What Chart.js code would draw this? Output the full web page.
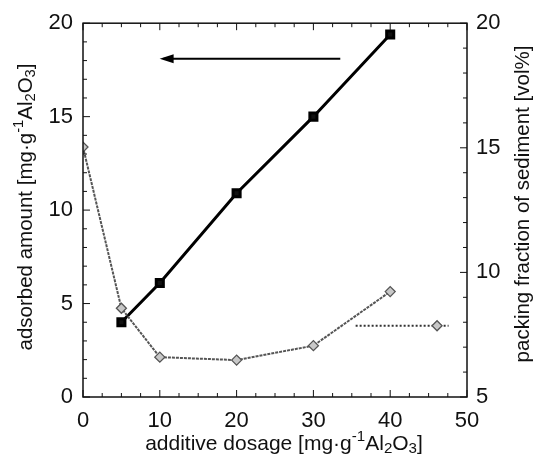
<!DOCTYPE html>
<html>
<head>
<meta charset="utf-8">
<script src="https://cdn.jsdelivr.net/npm/chart.js@4"></script>
<style>
html, body { margin: 0; padding: 0; background: #fff; }
#wrap { width: 536px; height: 459px; }
</style>
</head>
<body>
<div id="wrap"><canvas id="myChart"></canvas></div>
<script>
// additive dosage [mg/g Al2O3]
var dosage = [5, 10, 20, 30, 40];
var adsorbed = [4.0, 6.1, 10.9, 15.0, 19.4];

var dosagePack = [0, 5, 10, 20, 30, 40];
var packing = [15.03, 8.56, 6.6, 6.48, 7.06, 9.23];

// arrows pointing to the axis each series belongs to
var arrowLeftX = [33.5, 10.5];
var arrowLeftY = [18.1, 18.1];
var arrowRightX = [35.5, 46.1, 47.6];
var arrowRightY = [7.86, 7.86, 7.86];

var xTicks = [0, 10, 20, 30, 40, 50];
var yLeftTicks = [0, 5, 10, 15, 20];
var yRightTicks = [5, 10, 15, 20];

var font = 'Liberation Sans, Arial, sans-serif';

function pts(xs, ys) {
    var out = [];
    for (var i = 0; i < xs.length; i++) out.push({x: xs[i], y: ys[i]});
    return out;
}

// draws text runs with sub / superscripts
function richText(ctx, parts, size) {
    var w = 0;
    parts.forEach(function (p) {
        ctx.font = (p.s ? size * 0.72 : size) + 'px ' + font;
        p.w = ctx.measureText(p.t).width;
        w += p.w;
    });
    var x = -w / 2;
    parts.forEach(function (p) {
        ctx.font = (p.s ? size * 0.72 : size) + 'px ' + font;
        var dy = p.s === 'sup' ? -size * 0.36 : (p.s === 'sub' ? size * 0.24 : 0);
        ctx.fillText(p.t, x, dy);
        x += p.w;
    });
}

var unit = function (pre) {
    return [{t: pre + ' [mg\u00b7g'}, {t: '-1', s: 'sup'}, {t: 'Al'}, {t: '2', s: 'sub'}, {t: 'O'}, {t: '3', s: 'sub'}, {t: ']'}];
};

var framePlugin = {
    id: 'frame',
    afterDatasetsDraw: function (chart) {
        var ctx = chart.ctx, a = chart.chartArea;
        var xs = chart.scales.x, yl = chart.scales.y, yr = chart.scales.y2;
        ctx.save();
        ctx.strokeStyle = '#111';
        ctx.lineWidth = 1.5;
        ctx.strokeRect(a.left, a.top, a.right - a.left, a.bottom - a.top);
        ctx.lineWidth = 1;
        ctx.beginPath();
        for (var v = 0; v <= 50; v += 2.5) {
            var px = xs.getPixelForValue(v), len = v % 10 === 0 ? 7 : 4;
            ctx.moveTo(px, a.bottom); ctx.lineTo(px, a.bottom - len);
            ctx.moveTo(px, a.top); ctx.lineTo(px, a.top + len);
        }
        for (v = 0; v <= 20; v += 1) {
            var py = yl.getPixelForValue(v);
            len = v % 5 === 0 ? 7 : 4;
            ctx.moveTo(a.left, py); ctx.lineTo(a.left + len, py);
        }
        for (v = 5; v <= 20; v += 1) {
            py = yr.getPixelForValue(v);
            len = v % 5 === 0 ? 7 : 4;
            ctx.moveTo(a.right, py); ctx.lineTo(a.right - len, py);
        }
        ctx.stroke();

        // black arrowhead
        var hx = xs.getPixelForValue(arrowLeftX[1]), hy = yl.getPixelForValue(arrowLeftY[1]);
        ctx.fillStyle = '#000';
        ctx.beginPath();
        ctx.moveTo(hx - 4, hy);
        ctx.lineTo(hx + 10, hy - 4.5);
        ctx.lineTo(hx + 10, hy + 4.5);
        ctx.closePath();
        ctx.fill();

        // axis titles
        ctx.fillStyle = '#111';
        ctx.textBaseline = 'middle';
        ctx.textAlign = 'left';
        ctx.save();
        ctx.translate(284, 444);
        richText(ctx, unit('additive dosage'), 21);
        ctx.restore();
        ctx.save();
        ctx.translate(26, 207);
        ctx.rotate(-Math.PI / 2);
        richText(ctx, unit('adsorbed amount'), 20.5);
        ctx.restore();
        ctx.save();
        ctx.translate(523, 204);
        ctx.rotate(-Math.PI / 2);
        richText(ctx, [{t: 'packing fraction of sediment [vol%]'}], 20.5);
        ctx.restore();
        ctx.restore();
    }
};

var tickFont = {family: font, size: 22};

new Chart(document.getElementById('myChart'), {
    type: 'line',
    data: {
        datasets: [
            {
                data: pts(dosagePack, packing),
                yAxisID: 'y2',
                borderColor: '#555',
                borderWidth: 2,
                borderDash: [3, 1],
                pointStyle: 'rectRot',
                pointRadius: 5,
                pointBackgroundColor: '#c8c8c8',
                pointBorderColor: '#555',
                pointBorderWidth: 1.3
            },
            {
                data: pts(dosage, adsorbed),
                yAxisID: 'y',
                borderColor: '#000',
                borderWidth: 3,
                pointStyle: 'rect',
                pointRadius: 5,
                pointBackgroundColor: '#111',
                pointBorderColor: '#000'
            },
            {
                data: pts(arrowLeftX, arrowLeftY),
                yAxisID: 'y',
                borderColor: '#000',
                borderWidth: 2,
                pointRadius: 0
            },
            {
                data: pts(arrowRightX, arrowRightY),
                yAxisID: 'y2',
                borderColor: '#333',
                borderWidth: 2,
                borderDash: [2, 2],
                pointStyle: 'rectRot',
                pointRadius: [0, 5, 0],
                pointBackgroundColor: '#c8c8c8',
                pointBorderColor: '#555',
                pointBorderWidth: 1.3
            }
        ]
    },
    options: {
        responsive: true,
        maintainAspectRatio: false,
        animation: false,
        layout: {padding: {top: 14, left: 0, right: 0, bottom: 0}},
        plugins: {legend: {display: false}, tooltip: {enabled: false}},
        scales: {
            x: {
                type: 'linear', min: 0, max: 50,
                afterBuildTicks: function (s) { s.ticks = xTicks.map(function (v) { return {value: v}; }); },
                afterFit: function (s) { s.height = 62; },
                grid: {display: false, drawTicks: false},
                border: {display: false},
                ticks: {font: tickFont, color: '#111', padding: 11, maxRotation: 0}
            },
            y: {
                position: 'left', min: 0, max: 20,
                afterBuildTicks: function (s) { s.ticks = yLeftTicks.map(function (v) { return {value: v}; }); },
                afterFit: function (s) { s.width = 83; },
                grid: {display: false, drawTicks: false},
                border: {display: false},
                ticks: {font: tickFont, color: '#111', padding: 10}
            },
            y2: {
                position: 'right', min: 5, max: 20,
                afterBuildTicks: function (s) { s.ticks = yRightTicks.map(function (v) { return {value: v}; }); },
                afterFit: function (s) { s.width = 69; },
                grid: {display: false, drawTicks: false},
                border: {display: false},
                ticks: {font: tickFont, color: '#111', padding: 9}
            }
        }
    },
    plugins: [framePlugin]
});
</script>
</body>
</html>
